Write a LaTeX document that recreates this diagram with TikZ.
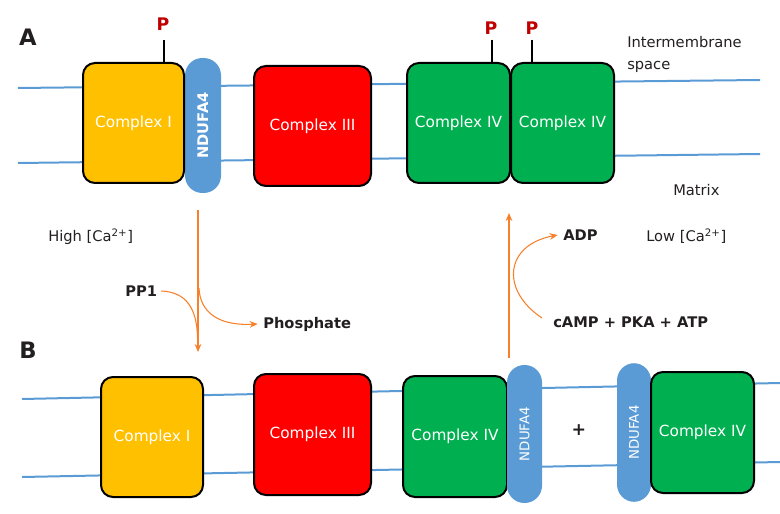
\documentclass[tikz,border=0pt]{standalone}
\usepackage{fontspec}
\usepackage{graphicx}
\setmainfont{DejaVu Sans}
\usetikzlibrary{arrows.meta}
\definecolor{mem}{HTML}{5B9BD5}
\definecolor{cI}{HTML}{FFC000}
\definecolor{cIII}{HTML}{FF0000}
\definecolor{cIV}{HTML}{00B050}
\definecolor{orng}{HTML}{F7802A}
\definecolor{pred}{HTML}{C00000}
\definecolor{ink}{HTML}{231F20}
\begin{document}
\begin{tikzpicture}[x=0.75pt,y=-0.75pt,
  membrane/.style={draw=mem, line width=1.5pt},
  cplx/.style={draw=black, line width=1.5pt, rounded corners=9pt, text=white, font=\fontsize{11.5}{13}\selectfont, inner sep=0pt},
  ndufa/.style={fill=mem, draw=none, rounded corners=13pt, text=white, inner sep=0pt},
  stick/.style={draw=black, line width=1.6pt},
  plab/.style={text=pred, font=\bfseries\fontsize{13}{15}\selectfont, inner sep=0pt},
  lab/.style={text=ink, font=\fontsize{11}{13}\selectfont, anchor=west, inner sep=0pt},
  blab/.style={lab, font=\bfseries\fontsize{11}{13}\selectfont},
  panel/.style={text=ink, font=\bfseries\fontsize{17}{19}\selectfont, inner sep=0pt},
  flow/.style={draw=orng, line width=0.8pt, -{Stealth[length=6pt,width=5pt]}},
  ]
\useasboundingbox (0,0) rectangle (780,513);

% ---------- Panel A ----------
\node[panel] (A) at (28,37) {A};
\coordinate (ta1) at (18,88);  \coordinate (ta2) at (760,80);
\coordinate (tb1) at (18,163); \coordinate (tb2) at (760,154);
\draw[membrane] (ta1) -- (ta2);
\draw[membrane] (tb1) -- (tb2);

\node[ndufa, minimum width=27pt, minimum height=101.25pt] (nA) at (203,125.5)
  {\rotatebox{90}{\bfseries\fontsize{11}{13}\selectfont NDUFA4}};
\node[cplx, fill=cI, minimum width=75.75pt, minimum height=90pt] (aI) at (133.5,123) {Complex I};
\node[cplx, fill=cIII, minimum width=87.75pt, minimum height=90pt] (aIII) at (312.5,126) {Complex III};
\node[cplx, fill=cIV, minimum width=77.25pt, minimum height=90pt] (aIVa) at (458.5,123) {Complex IV};
\node[cplx, fill=cIV, minimum width=77.25pt, minimum height=90pt] (aIVb) at (562.5,123) {Complex IV};

\coordinate (s1) at (164,40);
\coordinate (s2) at (492,40);
\coordinate (s3) at (532,40);
\draw[stick] (s1) -- (s1 |- aI.north);
\draw[stick] (s2) -- (s2 |- aIVa.north);
\draw[stick] (s3) -- (s3 |- aIVb.north);
\node[plab] (p1) at (163,24.5) {P};
\node[plab] (p2) at (491,28.5) {P};
\node[plab] (p3) at (532,28.5) {P};

\node[lab, align=left, font=\fontsize{11}{16.5}\selectfont] (ims) at (627,54) {Intermembrane\\space};
\node[lab] (mtx) at (673,190) {Matrix};

% ---------- Middle ----------
\node[lab] (hi) at (48,237) {High [Ca\textsuperscript{2+}]};
\node[lab] (lo) at (646,236) {Low [Ca\textsuperscript{2+}]};
\node[blab] (pp1) at (125,291) {PP1};
\node[blab] (pho) at (263,324) {Phosphate};
\node[blab] (adp) at (563,235) {ADP};
\node[blab] (camp) at (553,322) {cAMP + PKA + ATP};

\coordinate (dtop) at (198,210);
\coordinate (dbot) at (198,352);
\draw[flow] (dtop) -- (dbot);
\draw[draw=orng, line width=0.8pt] (pp1.east) ++(3pt,0)
  .. controls (186,292) and (197,308) .. (197.5,338);
\coordinate (br1) at (199,288);
\draw[flow] (br1) .. controls (200,312) and (218,326) .. ([xshift=-4pt]pho.west);

\coordinate (ubot) at (509,358);
\coordinate (utop) at (509,213);
\draw[flow] (ubot) -- (utop);
\coordinate (cs) at (542,318);
\draw[flow] (cs) .. controls (500,290) and (505,245) .. ([xshift=-4pt]adp.west);

% ---------- Panel B ----------
\node[panel] (B) at (28,350) {B};
\coordinate (ba1) at (22,399);  \coordinate (ba2) at (780,383);
\coordinate (bb1) at (22,477);  \coordinate (bb2) at (780,462);
\draw[membrane] (ba1) -- (ba2);
\draw[membrane] (bb1) -- (bb2);

\node[cplx, fill=cI, minimum width=76.5pt, minimum height=90pt] (bI) at (152,437) {Complex I};
\node[cplx, fill=cIII, minimum width=87.75pt, minimum height=90.75pt] (bIII) at (312.5,434.5) {Complex III};
\node[cplx, fill=cIV, minimum width=78pt, minimum height=90.75pt] (bIVa) at (455,436.5) {Complex IV};
\node[ndufa, minimum width=26.25pt, minimum height=103.5pt] (nB1) at (524.5,434)
  {\rotatebox{90}{\fontsize{10}{12}\selectfont NDUFA4}};
\node[ndufa, minimum width=25.5pt, minimum height=104pt] (nB2) at (634,432.5)
  {\rotatebox{90}{\fontsize{10}{12}\selectfont NDUFA4}};
\node[cplx, fill=cIV, minimum width=77.25pt, minimum height=90.75pt] (bIVb) at (702.5,432.5) {Complex IV};
\node[text=ink, font=\bfseries\fontsize{13}{15}\selectfont, inner sep=0pt] (plus) at (579,430) {+};
\end{tikzpicture}
\end{document}
